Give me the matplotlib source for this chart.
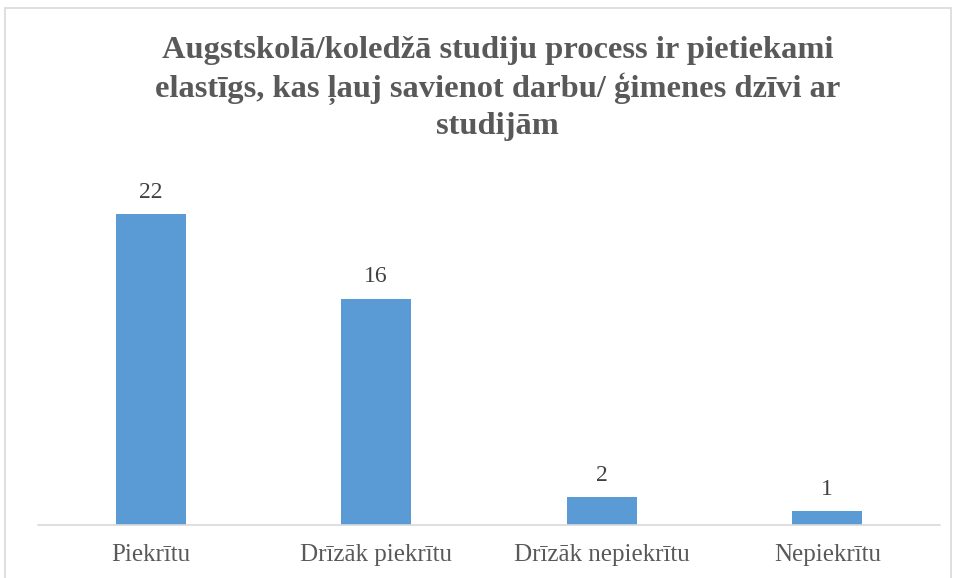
import matplotlib.pyplot as plt
from matplotlib.patches import Rectangle

categories = ["Piekrītu", "Drīzāk piekrītu", "Drīzāk nepiekrītu", "Nepiekrītu"]
values = [22, 16, 2, 1]
title = ("Augstskolā/koledžā studiju process ir pietiekami\n"
         "elastīgs, kas ļauj savienot darbu/ ģimenes dzīvi ar\n"
         "studijām")

plt.rcParams['font.family'] = ['Liberation Serif', 'DejaVu Serif']

fig = plt.figure(figsize=(9.57, 5.78), dpi=100)
# chart frame, bottom edge runs off the picture
fig.patches.append(Rectangle((5 / 957, -0.02), 946 / 957, 0.02 + 570 / 578,
                             transform=fig.transFigure, fill=False,
                             edgecolor='#d9d9d9', linewidth=1.2))

ax = fig.add_axes([0.0397, 0.0917, 0.9425, 0.612])
x = range(len(categories))
bars = ax.bar(x, values, width=0.31, color='#5B9BD5')

for b, v in zip(bars, values):
    ax.annotate(str(v), (b.get_x() + b.get_width() / 2, v),
                xytext=(0, 8), textcoords='offset points',
                ha='center', va='bottom', fontsize=17, color='#404040')

ax.set_xlim(-0.5, len(categories) - 0.5)
ax.set_ylim(0, 25)
ax.set_xticks(list(x))
ax.set_xticklabels(categories, fontsize=18, color='#595959')
ax.tick_params(axis='x', length=0, pad=14)
ax.set_yticks([])
for s in ['top', 'right', 'left']:
    ax.spines[s].set_visible(False)
ax.spines['bottom'].set_color('#d9d9d9')
ax.spines['bottom'].set_linewidth(1.2)

fig.text(0.52, 0.847, title, ha='center', va='center', fontsize=23.4,
         fontweight='bold', color='#595959', linespacing=1.32)

fig.savefig("out.png", dpi=100)
